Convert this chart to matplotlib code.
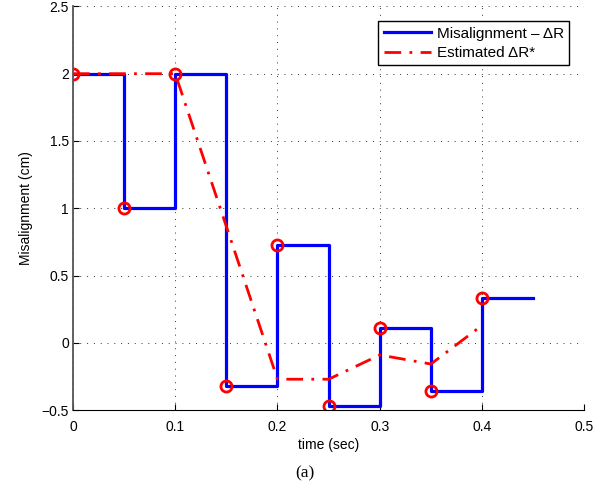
import numpy as np
import matplotlib
matplotlib.use('Agg')
import matplotlib.pyplot as plt

plt.rcParams['font.family'] = ['Liberation Sans', 'DejaVu Sans']

# true misalignment (step signal) and its estimate
t_step = [0, 0.05, 0.1, 0.15, 0.2, 0.25, 0.3, 0.35, 0.4, 0.45]
dR = [2, 1, 2, -0.32, 0.73, -0.47, 0.11, -0.36, 0.33, 0.33]
t_est = [0, 0.1, 0.2, 0.25, 0.3, 0.35, 0.4]
dR_est = [2, 2, -0.27, -0.27, -0.09, -0.157, 0.13]

fig = plt.figure(figsize=(6.08, 4.93), dpi=100)
ax = fig.add_axes([0.120, 0.168, 0.841, 0.819])

ax.plot(t_step, dR, drawstyle='steps-post', color='#0000ff', lw=2.3,
        label='Misalignment – ΔR')
ax.plot(t_est, dR_est, color='#ff0000', lw=2, dashes=(6, 3, 1, 3),
        label='Estimated ΔR*')
ax.plot(t_step[:-1], dR[:-1], 'o', mfc='none', mec='#ff0000', mew=2, ms=8)

ax.set_xlim(0, 0.5)
ax.set_ylim(-0.5, 2.5)
ax.set_xticks(np.arange(0, 0.51, 0.1))
ax.set_yticks(np.arange(-0.5, 2.51, 0.5))
ax.set_xticklabels(['0', '0.1', '0.2', '0.3', '0.4', '0.5'])
ax.set_yticklabels(['−0.5', '0', '0.5', '1', '1.5', '2', '2.5'])
ax.tick_params(direction='in', labelsize=10, length=4)
ax.tick_params(axis='x', pad=7)
ax.tick_params(axis='y', pad=3)
ax.grid(True, color='#333333', ls=(0, (1, 6)), lw=0.7)
ax.spines['top'].set_visible(False)
ax.spines['right'].set_visible(False)
ax.spines['left'].set_color('#555555')
ax.spines['left'].set_linewidth(1.3)

ax.set_xlabel('time (sec)', fontsize=10, labelpad=3)
ax.set_ylabel('Misalignment (cm)', fontsize=10, labelpad=6)

leg = ax.legend(loc='upper right', fontsize=11, fancybox=False, framealpha=1,
                edgecolor='black', handlelength=3.1, borderpad=0.35,
                labelspacing=0.35, handletextpad=0.4,
                bbox_to_anchor=(0.986, 0.982))
leg.get_frame().set_linewidth(1)

fig.text(0.502, 0.039, '(a)', ha='center', va='center', fontsize=12.5,
         family='Liberation Serif')

fig.savefig('out.png', dpi=100)
